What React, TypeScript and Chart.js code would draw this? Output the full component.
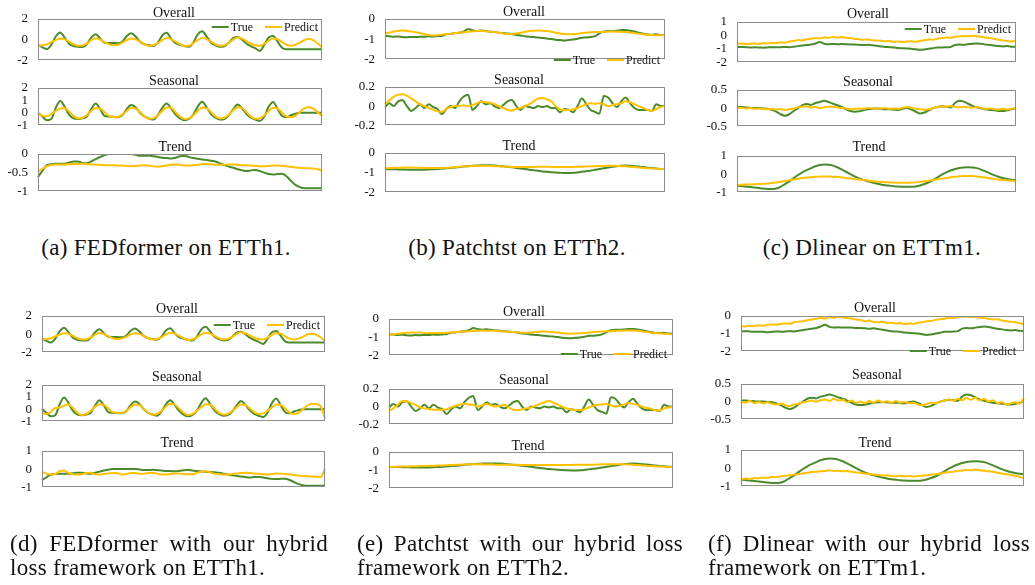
import React, { useEffect, useRef } from "react";
import { Chart, registerables } from "chart.js";

Chart.register(...registerables);

const GREEN = "#4a8a2c";
const YELLOW = "#ffc000";
const SERIF = '"Liberation Serif", "Times New Roman", serif';

// ---------- tick labels ----------
const ticksA = { overall: [2, 0, -2], seasonal: [2, 1, 0, -1], trend: [0, -0.5, -1] };
const ticksB = { overall: [0, -1, -2], seasonal: [0.2, 0, -0.2], trend: [0, -1, -2] };
const ticksC = { overall: [1, 0, -1, -2], seasonal: [0.5, 0, -0.5], trend: [1, 0, -1] };
const ticksD = { overall: [2, 0, -2], seasonal: [2, 1, 0, -1], trend: [1, 0, -1] };
const ticksE = { overall: [0, -1, -2], seasonal: [0.2, 0, -0.2], trend: [0, -1, -2] };
const ticksF = { overall: [0, -1, -2], seasonal: [0.5, 0, -0.5], trend: [1, 0, -1] };

// ---------- ETTh1 (FEDformer) ----------
const trueOverallA = [-0.5, -0.75, -0.93, -0.5, 0.3, 0.69, 0.2, -0.4, -0.62, -0.7, -0.72, -0.45, 0.2, 0.53, 0.1, -0.3, -0.32, -0.33, -0.35, -0.2, 0.35, 0.61, 0.3, -0.2, -0.45, -0.55, -0.62, -0.3, 0.4, 0.66, 0.1, -0.35, -0.5, -0.62, -0.7, -0.3, 0.5, 0.8, 0.3, -0.3, -0.55, -0.7, -0.65, -0.3, 0.15, 0.26, 0.0, -0.4, -0.65, -0.85, -1.1, -0.5, 0.2, 0.34, -0.2, -0.8, -0.94, -0.94, -0.94, -0.94, -0.94, -0.94, -0.94, -0.94, -0.94];
const predOverallA = [-0.6, -0.55, -0.45, -0.25, -0.05, 0.1, 0.05, -0.2, -0.45, -0.6, -0.58, -0.4, -0.05, 0.12, 0.0, -0.25, -0.45, -0.55, -0.5, -0.3, -0.05, 0.1, 0.02, -0.2, -0.45, -0.6, -0.55, -0.35, -0.05, 0.15, 0.05, -0.2, -0.45, -0.65, -0.6, -0.35, -0.05, 0.15, 0.05, -0.2, -0.45, -0.6, -0.55, -0.3, 0.0, 0.2, 0.1, -0.15, -0.4, -0.55, -0.6, -0.4, -0.1, 0.1, 0.05, -0.25, -0.5, -0.6, -0.5, -0.3, -0.05, 0.05, -0.05, -0.35, -0.75];
const trueSeasonalA = [0.0, -0.3, -0.6, -0.5, 0.4, 0.96, 0.5, -0.15, -0.45, -0.5, -0.45, -0.3, 0.3, 0.74, 0.3, -0.25, -0.3, -0.32, -0.35, -0.2, 0.3, 0.63, 0.45, 0.0, -0.3, -0.45, -0.55, -0.2, 0.4, 0.74, 0.35, -0.15, -0.45, -0.6, -0.5, -0.15, 0.5, 0.9, 0.45, -0.1, -0.4, -0.55, -0.5, -0.2, 0.3, 0.67, 0.35, -0.1, -0.4, -0.55, -0.65, -0.3, 0.5, 0.88, 0.3, -0.25, -0.35, -0.2, -0.08, 0.0, 0.0, 0.0, 0.0, 0.0, 0.0];
const predSeasonalA = [0.0, -0.25, -0.28, -0.1, 0.15, 0.35, 0.38, 0.1, -0.25, -0.45, -0.4, -0.2, 0.15, 0.38, 0.35, 0.05, -0.25, -0.35, -0.32, -0.15, 0.15, 0.4, 0.35, 0.05, -0.3, -0.48, -0.45, -0.2, 0.15, 0.42, 0.4, 0.05, -0.3, -0.5, -0.45, -0.2, 0.15, 0.43, 0.38, 0.05, -0.3, -0.45, -0.4, -0.15, 0.2, 0.45, 0.4, 0.05, -0.3, -0.48, -0.45, -0.2, 0.15, 0.4, 0.35, 0.0, -0.3, -0.35, -0.25, 0.05, 0.35, 0.45, 0.35, 0.05, -0.25];
const trueTrendA = [-0.62, -0.45, -0.3, -0.27, -0.26, -0.26, -0.26, -0.23, -0.2, -0.2, -0.24, -0.25, -0.2, -0.14, -0.08, -0.03, 0.0, 0.0, 0.0, 0.0, 0.0, 0.0, -0.02, -0.05, -0.05, -0.04, -0.06, -0.08, -0.1, -0.11, -0.12, -0.1, -0.06, -0.05, -0.08, -0.11, -0.13, -0.15, -0.16, -0.18, -0.2, -0.25, -0.3, -0.34, -0.37, -0.41, -0.44, -0.46, -0.44, -0.43, -0.46, -0.5, -0.54, -0.55, -0.54, -0.53, -0.6, -0.72, -0.83, -0.89, -0.92, -0.92, -0.92, -0.92, -0.92];
const predTrendA = [-0.48, -0.4, -0.33, -0.29, -0.28, -0.28, -0.28, -0.27, -0.27, -0.27, -0.26, -0.27, -0.28, -0.29, -0.29, -0.3, -0.3, -0.3, -0.31, -0.31, -0.32, -0.33, -0.32, -0.31, -0.3, -0.31, -0.33, -0.34, -0.33, -0.31, -0.29, -0.28, -0.29, -0.31, -0.31, -0.3, -0.29, -0.27, -0.27, -0.28, -0.29, -0.29, -0.29, -0.28, -0.28, -0.29, -0.3, -0.3, -0.31, -0.32, -0.33, -0.33, -0.32, -0.31, -0.31, -0.32, -0.33, -0.34, -0.36, -0.37, -0.38, -0.38, -0.39, -0.41, -0.45];
const predOverallD = predOverallA;
const predSeasonalD = [-0.3, -0.4, -0.25, 0.1, 0.12, 0.3, 0.38, 0.1, -0.3, -0.5, -0.4, -0.15, 0.2, 0.4, 0.35, 0.05, -0.25, -0.3, -0.32, -0.15, 0.15, 0.38, 0.35, 0.05, -0.3, -0.45, -0.4, -0.15, 0.2, 0.45, 0.4, 0.05, -0.3, -0.48, -0.42, -0.15, 0.15, 0.4, 0.38, 0.05, -0.3, -0.45, -0.4, -0.15, 0.15, 0.38, 0.35, 0.05, -0.25, -0.4, -0.35, -0.15, 0.15, 0.38, 0.35, 0.05, -0.3, -0.4, -0.3, 0.0, 0.3, 0.45, 0.42, 0.25, -0.8];
const predTrendD = [-0.15, -0.25, -0.3, -0.27, -0.12, -0.08, -0.22, -0.28, -0.3, -0.28, -0.22, -0.2, -0.28, -0.3, -0.27, -0.24, -0.21, -0.22, -0.3, -0.28, -0.22, -0.22, -0.25, -0.25, -0.22, -0.2, -0.25, -0.3, -0.3, -0.27, -0.24, -0.25, -0.27, -0.28, -0.28, -0.22, -0.15, -0.12, -0.18, -0.25, -0.27, -0.3, -0.3, -0.27, -0.25, -0.22, -0.2, -0.21, -0.24, -0.26, -0.28, -0.3, -0.27, -0.24, -0.25, -0.27, -0.3, -0.33, -0.36, -0.38, -0.4, -0.41, -0.42, -0.43, 0.0];

// ---------- ETTh2 (Patchtst) ----------
const trueOverallB = [-0.84, -0.86, -0.88, -0.87, -0.9, -0.91, -0.89, -0.9, -0.88, -0.88, -0.86, -0.87, -0.85, -0.84, -0.76, -0.74, -0.7, -0.68, -0.62, -0.5, -0.56, -0.6, -0.57, -0.6, -0.63, -0.65, -0.68, -0.7, -0.72, -0.75, -0.8, -0.82, -0.86, -0.88, -0.9, -0.92, -0.95, -0.97, -1.0, -1.03, -1.05, -1.07, -1.04, -1.02, -0.98, -0.93, -0.92, -0.9, -0.85, -0.72, -0.62, -0.6, -0.6, -0.58, -0.55, -0.55, -0.58, -0.62, -0.68, -0.73, -0.77, -0.78, -0.76, -0.8, -0.8];
const predOverallB = [-0.73, -0.68, -0.62, -0.6, -0.57, -0.58, -0.62, -0.66, -0.7, -0.75, -0.8, -0.82, -0.8, -0.78, -0.76, -0.73, -0.7, -0.68, -0.66, -0.63, -0.62, -0.6, -0.6, -0.61, -0.63, -0.65, -0.68, -0.72, -0.75, -0.75, -0.72, -0.68, -0.64, -0.6, -0.58, -0.57, -0.58, -0.6, -0.63, -0.68, -0.72, -0.75, -0.76, -0.75, -0.73, -0.7, -0.68, -0.66, -0.65, -0.65, -0.64, -0.63, -0.62, -0.63, -0.64, -0.65, -0.67, -0.7, -0.73, -0.76, -0.78, -0.8, -0.81, -0.81, -0.8];
const trueSeasonalB = [-0.01, 0.03, 0.0, 0.05, 0.06, 0.0, -0.05, -0.02, 0.02, -0.02, 0.02, -0.01, -0.03, -0.085, -0.03, 0.0, -0.02, 0.05, 0.1, 0.12, -0.04, 0.0, 0.05, 0.02, 0.03, 0.0, -0.02, 0.01, 0.05, 0.065, 0.0, -0.04, 0.0, -0.01, -0.02, 0.0, -0.01, 0.0, -0.02, -0.02, -0.065, -0.03, -0.04, -0.065, 0.0, 0.08, 0.02, -0.04, -0.06, -0.08, 0.105, 0.09, 0.03, -0.01, 0.05, 0.09, 0.03, -0.02, -0.04, -0.04, -0.04, -0.05, 0.02, 0.0, 0.0];
const predSeasonalB = [0.02, 0.06, 0.1, 0.12, 0.125, 0.11, 0.08, 0.05, 0.02, 0.0, -0.02, -0.04, -0.055, -0.06, -0.03, -0.01, 0.0, 0.0, 0.01, 0.0, 0.01, 0.03, 0.045, 0.04, 0.035, 0.02, 0.0, -0.02, -0.04, -0.045, -0.03, -0.02, 0.0, 0.02, 0.05, 0.08, 0.085, 0.07, 0.05, 0.0, -0.035, -0.04, -0.04, -0.035, -0.02, 0.0, 0.02, 0.03, 0.025, 0.03, 0.02, 0.0, 0.01, 0.02, 0.03, 0.05, 0.04, 0.02, 0.0, -0.02, -0.04, -0.05, -0.03, -0.01, 0.0];
const trueTrendB = [-0.82, -0.83, -0.83, -0.84, -0.84, -0.85, -0.85, -0.85, -0.85, -0.85, -0.84, -0.83, -0.82, -0.8, -0.78, -0.76, -0.74, -0.71, -0.69, -0.67, -0.65, -0.64, -0.63, -0.63, -0.63, -0.64, -0.66, -0.68, -0.7, -0.73, -0.76, -0.79, -0.82, -0.85, -0.88, -0.91, -0.94, -0.96, -0.98, -1.0, -1.01, -1.02, -1.02, -1.01, -0.99, -0.96, -0.93, -0.9, -0.86, -0.82, -0.78, -0.74, -0.7, -0.67, -0.65, -0.64, -0.65, -0.67, -0.69, -0.72, -0.75, -0.77, -0.79, -0.81, -0.82];
const predTrendB = [-0.78, -0.77, -0.76, -0.75, -0.75, -0.74, -0.74, -0.75, -0.75, -0.76, -0.76, -0.77, -0.77, -0.76, -0.75, -0.74, -0.72, -0.7, -0.69, -0.67, -0.66, -0.65, -0.65, -0.65, -0.66, -0.67, -0.68, -0.69, -0.7, -0.71, -0.71, -0.72, -0.72, -0.71, -0.71, -0.7, -0.7, -0.7, -0.71, -0.72, -0.72, -0.72, -0.72, -0.71, -0.7, -0.7, -0.69, -0.68, -0.67, -0.66, -0.66, -0.65, -0.65, -0.66, -0.67, -0.68, -0.7, -0.72, -0.74, -0.76, -0.78, -0.79, -0.8, -0.81, -0.82];
const predOverallE = [-0.88, -0.85, -0.82, -0.79, -0.76, -0.74, -0.74, -0.75, -0.77, -0.78, -0.78, -0.78, -0.77, -0.76, -0.74, -0.72, -0.7, -0.69, -0.68, -0.66, -0.65, -0.64, -0.65, -0.65, -0.66, -0.67, -0.68, -0.7, -0.72, -0.74, -0.76, -0.76, -0.74, -0.72, -0.7, -0.69, -0.7, -0.72, -0.75, -0.78, -0.8, -0.81, -0.8, -0.79, -0.77, -0.74, -0.72, -0.7, -0.69, -0.68, -0.67, -0.66, -0.65, -0.64, -0.63, -0.63, -0.65, -0.68, -0.72, -0.75, -0.78, -0.8, -0.82, -0.83, -0.85];
const predSeasonalE = [-0.05, -0.02, 0.02, 0.065, 0.06, 0.04, 0.02, -0.01, -0.02, -0.03, -0.035, -0.035, -0.035, -0.03, -0.01, 0.01, 0.025, 0.03, 0.025, 0.02, 0.0, 0.015, 0.03, 0.015, 0.0, 0.01, 0.02, -0.01, -0.035, -0.04, -0.03, -0.02, -0.01, 0.01, 0.03, 0.05, 0.065, 0.045, 0.025, 0.0, -0.02, -0.03, -0.04, -0.04, -0.03, -0.01, 0.01, 0.02, 0.025, 0.03, 0.015, 0.0, 0.01, 0.025, 0.04, 0.03, 0.02, 0.0, -0.015, -0.025, -0.04, -0.045, -0.02, -0.01, 0.0];
const predTrendE = [-0.83, -0.82, -0.81, -0.8, -0.8, -0.79, -0.79, -0.78, -0.78, -0.77, -0.76, -0.75, -0.74, -0.73, -0.72, -0.71, -0.7, -0.69, -0.68, -0.68, -0.68, -0.68, -0.69, -0.69, -0.7, -0.7, -0.7, -0.71, -0.71, -0.71, -0.72, -0.72, -0.72, -0.72, -0.72, -0.72, -0.72, -0.72, -0.72, -0.72, -0.72, -0.72, -0.71, -0.71, -0.71, -0.7, -0.7, -0.69, -0.68, -0.68, -0.67, -0.67, -0.67, -0.68, -0.69, -0.7, -0.72, -0.74, -0.76, -0.78, -0.79, -0.8, -0.81, -0.82, -0.83];

// ---------- ETTm1 (Dlinear) ----------
const trueOverallC = [-0.87, -0.86, -0.88, -0.9, -0.89, -0.9, -0.92, -0.9, -0.88, -0.89, -0.88, -0.86, -0.88, -0.84, -0.8, -0.76, -0.72, -0.68, -0.6, -0.5, -0.62, -0.66, -0.64, -0.66, -0.65, -0.66, -0.68, -0.68, -0.7, -0.72, -0.7, -0.74, -0.78, -0.82, -0.86, -0.88, -0.9, -0.94, -0.96, -0.98, -1.0, -1.04, -1.08, -1.05, -1.0, -0.95, -0.9, -0.9, -0.88, -0.86, -0.72, -0.68, -0.7, -0.66, -0.62, -0.6, -0.62, -0.68, -0.72, -0.76, -0.8, -0.82, -0.8, -0.84, -0.85];
const predOverallC = [-0.63, -0.6, -0.65, -0.62, -0.6, -0.64, -0.58, -0.6, -0.55, -0.58, -0.52, -0.55, -0.45, -0.42, -0.35, -0.38, -0.28, -0.25, -0.2, -0.22, -0.15, -0.18, -0.12, -0.15, -0.12, -0.18, -0.2, -0.26, -0.28, -0.32, -0.3, -0.36, -0.38, -0.4, -0.44, -0.42, -0.48, -0.45, -0.5, -0.46, -0.44, -0.48, -0.4, -0.36, -0.3, -0.32, -0.24, -0.2, -0.15, -0.18, -0.1, -0.08, -0.04, -0.06, -0.02, -0.08, -0.1, -0.16, -0.2, -0.26, -0.32, -0.36, -0.42, -0.46, -0.35];
const trueSeasonalC = [0.03, 0.03, 0.02, 0.01, 0.0, 0.0, -0.01, -0.02, -0.05, -0.1, -0.17, -0.21, -0.17, -0.08, 0.0, 0.08, 0.11, 0.09, 0.14, 0.17, 0.2, 0.17, 0.12, 0.08, 0.03, -0.03, -0.08, -0.1, -0.09, -0.06, -0.03, -0.02, -0.01, -0.02, -0.03, -0.03, -0.04, -0.05, -0.02, 0.0, -0.04, -0.1, -0.15, -0.12, -0.06, 0.0, 0.03, 0.05, 0.04, 0.02, 0.14, 0.2, 0.18, 0.12, 0.06, 0.02, -0.01, -0.03, -0.05, -0.06, -0.08, -0.08, -0.06, -0.03, 0.0];
const predSeasonalC = [0.0, 0.01, -0.01, 0.0, -0.02, -0.01, -0.02, -0.03, -0.02, -0.04, -0.03, -0.05, -0.03, -0.01, 0.02, 0.04, 0.05, 0.02, 0.03, 0.0, 0.02, 0.04, 0.03, 0.02, 0.0, -0.01, -0.03, -0.02, -0.01, -0.02, 0.0, -0.01, -0.02, -0.01, 0.0, -0.02, -0.01, -0.02, 0.01, 0.03, 0.01, -0.02, -0.03, -0.05, -0.03, 0.0, 0.03, 0.05, 0.04, 0.06, 0.03, 0.02, 0.04, 0.02, 0.01, 0.03, 0.0, -0.02, -0.01, -0.03, -0.04, -0.02, -0.04, -0.02, 0.0];
const trueTrendC = [-0.64, -0.66, -0.68, -0.71, -0.74, -0.77, -0.8, -0.82, -0.83, -0.8, -0.7, -0.55, -0.4, -0.22, -0.05, 0.1, 0.22, 0.33, 0.43, 0.5, 0.53, 0.52, 0.47, 0.38, 0.26, 0.13, 0.0, -0.13, -0.24, -0.33, -0.4, -0.46, -0.52, -0.57, -0.61, -0.64, -0.67, -0.69, -0.7, -0.7, -0.7, -0.68, -0.63, -0.55, -0.45, -0.32, -0.18, -0.03, 0.1, 0.2, 0.28, 0.34, 0.37, 0.38, 0.37, 0.33, 0.25, 0.15, 0.04, -0.06, -0.15, -0.22, -0.27, -0.31, -0.34];
const predTrendC = [-0.6, -0.59, -0.58, -0.57, -0.56, -0.55, -0.54, -0.52, -0.49, -0.46, -0.42, -0.38, -0.34, -0.3, -0.26, -0.22, -0.19, -0.17, -0.15, -0.14, -0.13, -0.13, -0.14, -0.16, -0.18, -0.21, -0.24, -0.27, -0.3, -0.33, -0.36, -0.39, -0.41, -0.43, -0.45, -0.46, -0.47, -0.48, -0.48, -0.48, -0.47, -0.45, -0.43, -0.4, -0.37, -0.33, -0.29, -0.25, -0.21, -0.17, -0.14, -0.12, -0.1, -0.1, -0.11, -0.13, -0.16, -0.19, -0.23, -0.27, -0.3, -0.33, -0.35, -0.37, -0.38];
const predOverallF = [-0.57, -0.6, -0.55, -0.58, -0.52, -0.55, -0.5, -0.48, -0.5, -0.45, -0.42, -0.44, -0.36, -0.32, -0.3, -0.24, -0.2, -0.16, -0.12, -0.14, -0.06, -0.1, -0.04, -0.08, -0.12, -0.14, -0.2, -0.22, -0.3, -0.26, -0.34, -0.36, -0.32, -0.4, -0.38, -0.42, -0.4, -0.46, -0.42, -0.44, -0.38, -0.36, -0.3, -0.28, -0.22, -0.18, -0.16, -0.1, -0.12, -0.06, -0.04, -0.02, -0.06, -0.04, -0.1, -0.12, -0.16, -0.2, -0.18, -0.26, -0.3, -0.32, -0.36, -0.4, -0.48];
const predSeasonalF = [0.0, -0.03, 0.02, -0.04, -0.01, -0.05, -0.02, -0.06, -0.08, -0.06, -0.1, -0.13, -0.08, -0.06, -0.02, 0.0, 0.03, 0.0, 0.04, 0.06, 0.02, 0.08, 0.03, 0.05, -0.02, 0.03, -0.04, 0.0, -0.05, 0.02, -0.03, 0.03, -0.02, 0.01, -0.04, 0.02, -0.03, -0.01, -0.05, -0.03, -0.08, -0.1, -0.07, -0.03, -0.05, 0.0, 0.03, 0.06, 0.02, 0.08, 0.04, 0.1, 0.05, 0.11, 0.03, 0.08, 0.0, 0.04, -0.04, -0.02, -0.08, -0.05, -0.02, -0.06, 0.1];
const predTrendF = [-0.62, -0.58, -0.6, -0.55, -0.56, -0.52, -0.54, -0.48, -0.5, -0.45, -0.42, -0.4, -0.36, -0.32, -0.3, -0.26, -0.22, -0.2, -0.18, -0.16, -0.12, -0.16, -0.14, -0.18, -0.16, -0.2, -0.24, -0.26, -0.3, -0.32, -0.36, -0.38, -0.42, -0.4, -0.44, -0.46, -0.42, -0.46, -0.44, -0.47, -0.43, -0.42, -0.4, -0.36, -0.34, -0.3, -0.26, -0.22, -0.2, -0.16, -0.14, -0.1, -0.12, -0.08, -0.12, -0.14, -0.18, -0.2, -0.26, -0.3, -0.34, -0.38, -0.42, -0.48, -0.56];

// ---------- captions ----------
const topCaptions = ["(a) FEDformer on ETTh1.", "(b) Patchtst on ETTh2.", "(c) Dlinear on ETTm1."];
const bottomCaptions = [
  ["(d) FEDformer with our hybrid", "loss framework on ETTh1."],
  ["(e) Patchtst with our hybrid loss", "framework on ETTh2."],
  ["(f) Dlinear with our hybrid loss", "framework on ETTm1."],
];

// ---------- layout (positions only) ----------
type SubCfg = {
  l: number; r: number; t: number; b: number;
  titleX: number; titleY: number; title: string;
  yMin: number; yMax: number; ticks: number[];
  truth: number[]; pred: number[];
  legend?: { right: number; y: number };
};

const SUBS: SubCfg[] = [
  // (a)
  { l: 38, r: 322, t: 19, b: 69, titleX: 174, titleY: 13, title: "Overall", yMin: -2, yMax: 2, ticks: ticksA.overall, truth: trueOverallA, pred: predOverallA, legend: { right: 318, y: 27 } },
  { l: 38, r: 322, t: 88, b: 134, titleX: 174, titleY: 81, title: "Seasonal", yMin: -1, yMax: 2, ticks: ticksA.seasonal, truth: trueSeasonalA, pred: predSeasonalA },
  { l: 38, r: 322, t: 154, b: 200, titleX: 175, titleY: 147, title: "Trend", yMin: -1, yMax: 0, ticks: ticksA.trend, truth: trueTrendA, pred: predTrendA },
  // (b)
  { l: 385, r: 665, t: 19, b: 68, titleX: 524, titleY: 12, title: "Overall", yMin: -2, yMax: 0, ticks: ticksB.overall, truth: trueOverallB, pred: predOverallB, legend: { right: 660, y: 60 } },
  { l: 385, r: 665, t: 87, b: 134, titleX: 519, titleY: 80, title: "Seasonal", yMin: -0.2, yMax: 0.2, ticks: ticksB.seasonal, truth: trueSeasonalB, pred: predSeasonalB },
  { l: 385, r: 665, t: 153, b: 201, titleX: 519, titleY: 146, title: "Trend", yMin: -2, yMax: 0, ticks: ticksB.trend, truth: trueTrendB, pred: predTrendB },
  // (c)
  { l: 737, r: 1016, t: 22, b: 71, titleX: 868, titleY: 14, title: "Overall", yMin: -2, yMax: 1, ticks: ticksC.overall, truth: trueOverallC, pred: predOverallC, legend: { right: 1011, y: 29 } },
  { l: 737, r: 1016, t: 90, b: 135, titleX: 868, titleY: 82, title: "Seasonal", yMin: -0.5, yMax: 0.5, ticks: ticksC.seasonal, truth: trueSeasonalC, pred: predSeasonalC },
  { l: 737, r: 1016, t: 156, b: 201, titleX: 869, titleY: 147, title: "Trend", yMin: -1, yMax: 1, ticks: ticksC.trend, truth: trueTrendC, pred: predTrendC },
  // (d)
  { l: 42, r: 325, t: 316, b: 361, titleX: 177, titleY: 309, title: "Overall", yMin: -2, yMax: 2, ticks: ticksD.overall, truth: trueOverallA, pred: predOverallD, legend: { right: 320, y: 325 } },
  { l: 42, r: 325, t: 385, b: 430, titleX: 177, titleY: 377, title: "Seasonal", yMin: -1, yMax: 2, ticks: ticksD.seasonal, truth: trueSeasonalA, pred: predSeasonalD },
  { l: 42, r: 325, t: 451, b: 496, titleX: 177, titleY: 443, title: "Trend", yMin: -1, yMax: 1, ticks: ticksD.trend, truth: trueTrendA, pred: predTrendD },
  // (e)
  { l: 389, r: 673, t: 319, b: 364, titleX: 524, titleY: 312, title: "Overall", yMin: -2, yMax: 0, ticks: ticksE.overall, truth: trueOverallB, pred: predOverallE, legend: { right: 667, y: 354 } },
  { l: 389, r: 673, t: 389, b: 433, titleX: 524, titleY: 380, title: "Seasonal", yMin: -0.2, yMax: 0.2, ticks: ticksE.seasonal, truth: trueSeasonalB, pred: predSeasonalE },
  { l: 389, r: 673, t: 452, b: 497, titleX: 528, titleY: 446, title: "Trend", yMin: -2, yMax: 0, ticks: ticksE.trend, truth: trueTrendB, pred: predTrendE },
  // (f)
  { l: 741, r: 1024, t: 316, b: 360, titleX: 875, titleY: 308, title: "Overall", yMin: -2, yMax: 0, ticks: ticksF.overall, truth: trueOverallC, pred: predOverallF, legend: { right: 1016, y: 351 } },
  { l: 741, r: 1024, t: 384, b: 428, titleX: 877, titleY: 375, title: "Seasonal", yMin: -0.5, yMax: 0.5, ticks: ticksF.seasonal, truth: trueSeasonalC, pred: predSeasonalF },
  { l: 741, r: 1024, t: 450, b: 495, titleX: 875, titleY: 443, title: "Trend", yMin: -1, yMax: 1, ticks: ticksF.trend, truth: trueTrendC, pred: predTrendF },
];

const PAD_L = 40, PAD_T = 20, PAD_R = 4, PAD_B = 9;

function SubChart({ cfg }: { cfg: SubCfg }) {
  const ref = useRef<HTMLCanvasElement | null>(null);
  const W = cfg.r - cfg.l + PAD_L + PAD_R;
  const H = cfg.b - cfg.t + PAD_T + PAD_B;
  const left = cfg.l - PAD_L;
  const top = cfg.t - PAD_T;

  useEffect(() => {
    if (!ref.current) return;
    const labels = cfg.truth.map((_, i) => i);
    const decor = {
      id: "decor",
      afterDatasetsDraw(chart: any) {
        const { ctx, chartArea: a } = chart;
        ctx.save();
        ctx.strokeStyle = "#8c8c8c";
        ctx.lineWidth = 1;
        ctx.strokeRect(Math.round(a.left) + 0.5, Math.round(a.top) + 0.5, Math.round(a.right - a.left) - 1, Math.round(a.bottom - a.top) - 1);
        ctx.restore();
      },
      afterDraw(chart: any) {
        const { ctx } = chart;
        ctx.save();
        ctx.fillStyle = "#111";
        ctx.font = `14px ${SERIF}`;
        ctx.textAlign = "center";
        ctx.textBaseline = "middle";
        ctx.fillText(cfg.title, cfg.titleX - left, cfg.titleY - top);
        if (cfg.legend) {
          ctx.font = `12px ${SERIF}`;
          ctx.textAlign = "left";
          const items: [string, string][] = [["True", GREEN], ["Predict", YELLOW]];
          const lineLen = 17, gap1 = 2, gap2 = 12;
          const widths = items.map(([s]) => ctx.measureText(s).width);
          const total = items.length * (lineLen + gap1) + widths[0] + widths[1] + gap2;
          let x = cfg.legend.right - left - total;
          const y = cfg.legend.y - top;
          items.forEach(([s, c], i) => {
            ctx.strokeStyle = c;
            ctx.lineWidth = 2;
            ctx.beginPath();
            ctx.moveTo(x, y);
            ctx.lineTo(x + lineLen, y);
            ctx.stroke();
            x += lineLen + gap1;
            ctx.fillStyle = "#111";
            ctx.fillText(s, x, y + 0.5);
            x += widths[i] + gap2;
          });
        }
        ctx.restore();
      },
    };

    const chart = new Chart(ref.current, {
      type: "line",
      data: {
        labels,
        datasets: [
          { label: "Predict", data: cfg.pred, borderColor: YELLOW, borderWidth: 2, pointRadius: 0, cubicInterpolationMode: "monotone", fill: false },
          { label: "True", data: cfg.truth, borderColor: GREEN, borderWidth: 2, pointRadius: 0, cubicInterpolationMode: "monotone", fill: false },
        ],
      },
      options: {
        animation: false,
        responsive: false,
        maintainAspectRatio: false,
        devicePixelRatio: 1,
        events: [],
        layout: { padding: { left: 0, top: PAD_T, right: PAD_R, bottom: PAD_B } },
        plugins: { legend: { display: false }, tooltip: { enabled: false }, title: { display: false } },
        scales: {
          x: { type: "category", display: false, offset: false },
          y: {
            min: cfg.yMin,
            max: cfg.yMax,
            afterBuildTicks: (ax: any) => { ax.ticks = cfg.ticks.map((v) => ({ value: v })); },
            afterFit: (ax: any) => { ax.width = PAD_L; },
            grid: { display: false, drawTicks: false },
            border: { display: false },
            ticks: {
              autoSkip: false,
              padding: 10,
              color: "#111",
              font: { family: SERIF, size: 13 },
              callback: (v: any) => String(v),
            },
          },
        },
      } as any,
      plugins: [decor],
    });
    return () => chart.destroy();
  }, []);

  return (
    <canvas
      ref={ref}
      width={W}
      height={H}
      style={{ position: "absolute", left, top, width: W, height: H }}
    />
  );
}

const capFont: React.CSSProperties = {
  position: "absolute",
  fontFamily: SERIF,
  fontSize: 23,
  letterSpacing: "0.3px",
  color: "#111",
  whiteSpace: "nowrap",
};

const topCapCenters = [166, 517, 872];
const bottomCapBoxes = [
  { left: 10, width: 318 },
  { left: 357, width: 326 },
  { left: 708, width: 322 },
];

export default function App() {
  return (
    <div style={{ position: "absolute", left: 0, top: 0, width: 1035, height: 585, background: "#fff", overflow: "hidden" }}>
      {SUBS.map((s, i) => (
        <SubChart key={i} cfg={s} />
      ))}
      {topCaptions.map((c, i) => (
        <div key={"t" + i} style={{ ...capFont, left: topCapCenters[i] - 200, width: 400, top: 236, lineHeight: "24px", textAlign: "center" }}>
          {c}
        </div>
      ))}
      {bottomCaptions.map((lines, i) => (
        <React.Fragment key={"b" + i}>
          <div style={{ ...capFont, left: bottomCapBoxes[i].left, width: bottomCapBoxes[i].width, top: 532, lineHeight: "23px", textAlign: "justify", textAlignLast: "justify" as any, whiteSpace: "normal" }}>
            {lines[0]}
          </div>
          <div style={{ ...capFont, left: bottomCapBoxes[i].left, width: bottomCapBoxes[i].width, top: 556, lineHeight: "23px", textAlign: "left" }}>
            {lines[1]}
          </div>
        </React.Fragment>
      ))}
    </div>
  );
}
